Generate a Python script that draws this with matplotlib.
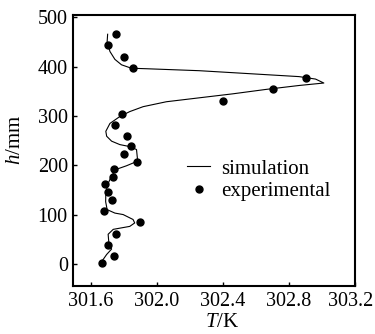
import numpy as np
import matplotlib
matplotlib.use('Agg')
import matplotlib.pyplot as plt
from matplotlib.transforms import ScaledTranslation

plt.rcParams['font.family'] = 'Liberation Serif'
plt.rcParams['mathtext.fontset'] = 'custom'
plt.rcParams['mathtext.it'] = 'Liberation Serif:italic'
plt.rcParams['mathtext.rm'] = 'Liberation Serif'

# simulation curve (T in K, h in mm)
sim_T = [301.701, 301.698, 301.715, 301.745, 301.785, 301.845, 301.936, 302.257,
         302.660, 302.861, 302.961, 303.011, 302.861, 302.660, 302.458, 302.257,
         302.057, 301.916, 301.835, 301.775, 301.715, 301.690, 301.695, 301.725,
         301.775, 301.835, 301.876, 301.882, 301.865, 301.815, 301.755, 301.725,
         301.704, 301.690, 301.689, 301.698, 301.745, 301.795, 301.855, 301.865,
         301.835, 301.735, 301.704, 301.709, 301.725, 301.695, 301.670]
sim_h = [466, 451, 431, 415, 404, 397, 396, 392,
         384, 380, 375, 367, 362, 354, 345, 337,
         329, 319, 309, 299, 285, 269, 259, 249,
         242, 238, 232, 212, 206, 199, 192, 179,
         163, 146, 126, 110, 103, 100, 90, 83,
         76, 70, 60, 40, 30, 19, 7]

# experimental points
exp_T = [301.751, 301.704, 301.803, 301.853, 302.905, 302.702, 302.402, 301.791,
         301.743, 301.819, 301.841, 301.801, 301.879, 301.741, 301.731, 301.684,
         301.701, 301.729, 301.678, 301.900, 301.749, 301.701, 301.737, 301.668]
exp_h = [466, 445, 420, 398, 378, 354, 331, 305,
         281, 259, 240, 222, 206, 192, 177, 162,
         146, 130, 107, 84, 60, 38, 15, 1]

xticks = [301.6, 302.0, 302.4, 302.8, 303.2]
yticks = [0, 100, 200, 300, 400, 500]

fig = plt.figure(figsize=(3.75, 3.34), dpi=100)
ax = fig.add_axes([0.1955, 0.1437, 0.7512, 0.8113])

ax.plot(sim_T, sim_h, 'k-', linewidth=0.8, label='simulation')
ax.plot(exp_T, exp_h, 'ko', markersize=5, linestyle='none', label='experimental')

ax.set_xlim(301.493, 303.2)
ax.set_ylim(-45, 505)
ax.set_xticks(xticks)
ax.set_xticklabels(['%.1f' % t for t in xticks])
ax.set_yticks(yticks)
ax.tick_params(direction='in', length=3, width=1, labelsize=14.5, pad=4)
for s in ax.spines.values():
    s.set_linewidth(1.5)

# pull the last x label a bit inside the figure
last = ax.get_xticklabels()[-1]
last.set_transform(last.get_transform() + ScaledTranslation(-4 / 100, 0, fig.dpi_scale_trans))

ax.set_xlabel('$T$/K', fontsize=15)
ax.set_ylabel('$h$/mm', fontsize=15)
ax.xaxis.set_label_coords(0.528, -0.1)
ax.yaxis.set_label_coords(-0.171, 0.539)

ax.legend(loc='center left', bbox_to_anchor=(0.405, 0.39), frameon=False,
          fontsize=15, handlelength=1.1, handletextpad=0.5, labelspacing=0.15,
          borderaxespad=0, borderpad=0)

fig.savefig('out.png', dpi=100)
